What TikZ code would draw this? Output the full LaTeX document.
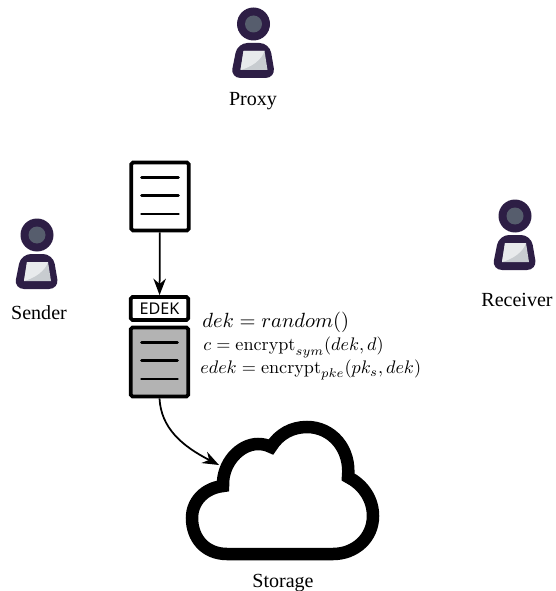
\documentclass[tikz,border=0pt]{standalone}
\usepackage{amsmath, amssymb}
\usepackage[no-math]{fontspec}
\setmainfont{Liberation Serif}
\newfontfamily\boxfont{Noto Sans}
\usepackage{tikz}
\usetikzlibrary{arrows.meta}

\definecolor{personink}{HTML}{2D1E45}
\definecolor{personface}{HTML}{565D6D}
\definecolor{personscreen}{HTML}{C8CCD0}
\definecolor{personshine}{HTML}{E8EAEC}
\definecolor{cipherfill}{HTML}{B3B3B3}

\tikzset{
  person/.pic={
    \fill[personink] (0,0) circle (16.5);
    \fill[personface] (0,0) circle (8.5);
    \fill[personink, rounded corners=0.2cm] (-16,19) -- (16,19) -- (22,54) -- (-23,54) -- cycle;
    \fill[personscreen] (-10,27) -- (11,27) -- (14,46) -- (-13,46) -- cycle;
    \fill[personshine] (-10,27) -- (11,27) .. controls (8,36) and (-2,43) .. (-13,46) -- cycle;
  },
  label/.style={font=\fontsize{11.4}{13}\selectfont, inner sep=0pt, anchor=base},
  formula/.style={font=\fontsize{10}{12}\selectfont, inner sep=0pt, anchor=base west, scale=1.035},
  sheet/.style={draw, line width=0.075cm, rounded corners=1pt, minimum width=1.15cm, inner sep=0pt},
  rowline/.style={line width=0.055cm, line cap=round},
  link/.style={line width=0.035cm, -{Stealth[length=0.33cm, width=0.25cm]}}
}

\begin{document}
\begin{tikzpicture}[x=0.02cm, y=-0.02cm]
  \useasboundingbox (0,0) rectangle (555,591);

  \pic (proxy) at (253.5,24) {person};
  \pic (sender) at (37,235) {person};
  \pic (receiver) at (515,216) {person};

  \node[label] (proxylabel) at (253,105.5) {Proxy};
  \node[label] (senderlabel) at (39,319.5) {Sender};
  \node[label] (receiverlabel) at (517,306.5) {Receiver};
  \node[label] (storagelabel) at (283,587) {Storage};

  \node[sheet, minimum height=1.36cm] (doc) at (160,196.5) {};
  \node[sheet, minimum height=0.46cm, font=\fontsize{9.2}{10}\selectfont\boxfont] (edek) at (159.5,308.5) {EDEK};
  \node[sheet, minimum height=1.38cm, fill=cipherfill] (cipher) at (159.5,362) {};

  \foreach \y in {177.3,195.7,214} \draw[rowline] (141.5,\y) -- (178.5,\y);
  \foreach \y in {342.3,360.7,379} \draw[rowline] (141.5,\y) -- (177.5,\y);

  \node[formula, scale=1.13] (dekline) at (202,327.7) {$dek = random()$};
  \node[formula] (cline) at (203,350.7) {$c = \mathrm{encrypt}_{sym}(dek, d)$};
  \node[formula] (edekline) at (200,373.3) {$edek = \mathrm{encrypt}_{pke}(pk_s, dek)$};

  \draw[line width=0.25cm, miter limit=10] (227,554) .. controls (205,554) and (192,538) .. (192,518)
    .. controls (192,501) and (205,488) .. (223,486)
    .. controls (222,463) and (240,444) .. (258,444)
    .. controls (263,444) and (267,445) .. (271,447)
    .. controls (279,434) and (292,427) .. (307,427)
    .. controls (332,427) and (351,449) .. (348,477)
    .. controls (362,484) and (373,498) .. (373,516)
    .. controls (373,538) and (355,554) .. (333,554) -- cycle;
  \coordinate (cloudin) at (219,465);

  \draw[link] (doc) -- (edek);
  \draw[link] (cipher.south) .. controls (161,428) and (182,446) .. (cloudin);
\end{tikzpicture}
\end{document}
